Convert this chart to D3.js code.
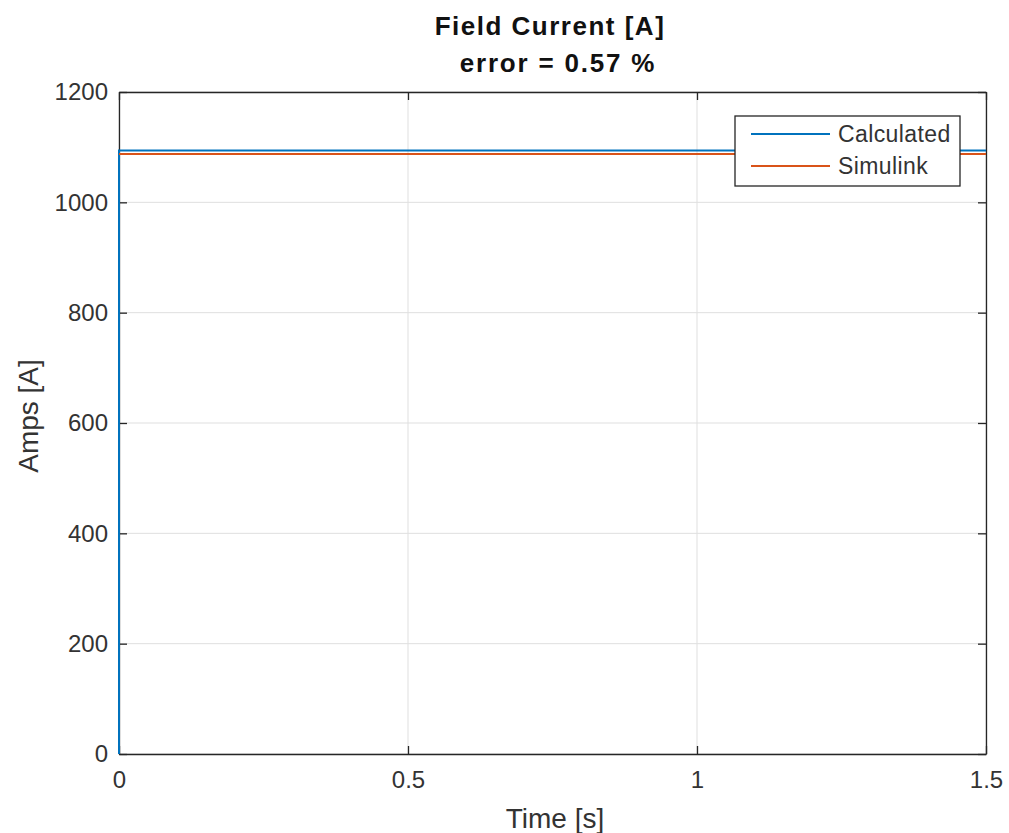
<!DOCTYPE html>
<html>
<head>
<meta charset="utf-8">
<script src="https://cdn.jsdelivr.net/npm/d3@7"></script>
<style>
	body { margin: 0; background: white; }
	text { font-family: "Liberation Sans", Arial, sans-serif; fill: #333333; }
</style>
</head>
<body>
<script>
// chart data
var calcTime = [0, 0, 1.5]
var calcAmps = [0, 1094, 1094]
var simTime = [0, 1.5]
var simAmps = [1087.8, 1087.8]
var xTicks = [0, 0.5, 1, 1.5]
var yTicks = [0, 200, 400, 600, 800, 1000, 1200]
var seriesNames = ["Calculated", "Simulink"]
var seriesColors = ["#0072BD", "#D95319"]

var width = 1009, height = 833
// plot box (don't call it "top", that's window.top)
var plotLeft = 119, plotRight = 986, plotTop = 92, plotBottom = 754

var svg = d3.select("body").append("svg")
	.attr("width", width).attr("height", height)

var x = d3.scaleLinear().domain([0, 1.5]).range([plotLeft, plotRight])
var y = d3.scaleLinear().domain([0, 1200]).range([plotBottom, plotTop])

// grid
var grid = svg.append("g")
grid.selectAll(".gx").data(xTicks).enter().append("line")
	.attr("x1", function(d) { return x(d) }).attr("x2", function(d) { return x(d) })
	.attr("y1", plotTop).attr("y2", plotBottom)
	.attr("stroke", "#dfdfdf").attr("stroke-width", 1)
grid.selectAll(".gy").data(yTicks).enter().append("line")
	.attr("x1", plotLeft).attr("x2", plotRight)
	.attr("y1", function(d) { return y(d) }).attr("y2", function(d) { return y(d) })
	.attr("stroke", "#dfdfdf").attr("stroke-width", 1)

// axes with inward ticks, box around
var axisColor = "#262626"
var xAxis = svg.append("g").attr("transform", "translate(0," + plotBottom + ")")
	.call(d3.axisBottom(x).tickValues(xTicks).tickSizeInner(-8).tickSizeOuter(0).tickPadding(17)
		.tickFormat(function(d) { return d3.format("")(d) }))
var xTop = svg.append("g").attr("transform", "translate(0," + plotTop + ")")
	.call(d3.axisTop(x).tickValues(xTicks).tickSizeInner(-8).tickSizeOuter(0).tickFormat(""))
var yAxis = svg.append("g").attr("transform", "translate(" + plotLeft + ",0)")
	.call(d3.axisLeft(y).tickValues(yTicks).tickSizeInner(-8).tickSizeOuter(0).tickPadding(11)
		.tickFormat(function(d) { return d3.format("")(d) }))
var yRight = svg.append("g").attr("transform", "translate(" + plotRight + ",0)")
	.call(d3.axisRight(y).tickValues(yTicks).tickSizeInner(-8).tickSizeOuter(0).tickFormat(""))

;[xAxis, xTop, yAxis, yRight].forEach(function(a) {
	a.selectAll("path").attr("stroke", axisColor).attr("stroke-width", 1.3)
	a.selectAll("line").attr("stroke", axisColor).attr("stroke-width", 1.3)
	a.selectAll("text").attr("font-size", 24).attr("font-family", null).attr("fill", "#3a3a3a")
})
xAxis.selectAll("text").attr("dy", "0.71em")

// data lines, on top of the axes
function addSeries(times, values, color) {
	var pts = times.map(function(t, i) { return [t, values[i]] })
	svg.append("path").datum(pts)
		.attr("fill", "none").attr("stroke", color).attr("stroke-width", 2)
		.attr("d", d3.line().x(function(d) { return x(d[0]) }).y(function(d) { return y(d[1]) }))
}
addSeries(calcTime, calcAmps, seriesColors[0])
addSeries(simTime, simAmps, seriesColors[1])

// axis labels
svg.append("text").text("Time [s]")
	.attr("x", 555).attr("y", 828)
	.attr("text-anchor", "middle").attr("font-size", 28)
svg.append("text").text("Amps [A]")
	.attr("transform", "translate(38," + 416 + ") rotate(-90)")
	.attr("text-anchor", "middle").attr("font-size", 28)

// title
svg.append("text").text("Field Current [A]")
	.attr("x", 550).attr("y", 35)
	.attr("text-anchor", "middle").attr("font-size", 26).attr("font-weight", "bold")
	.attr("letter-spacing", 1.5).style("fill", "#111")
svg.append("text").text("error = 0.57 %")
	.attr("x", 558).attr("y", 72)
	.attr("text-anchor", "middle").attr("font-size", 26).attr("font-weight", "bold")
	.attr("letter-spacing", 1.8).style("fill", "#111")

// legend
var legend = svg.append("g")
legend.append("rect")
	.attr("x", 735).attr("y", 116).attr("width", 225).attr("height", 70)
	.attr("fill", "white").attr("stroke", axisColor).attr("stroke-width", 1.3)
seriesNames.forEach(function(name, i) {
	var ly = 134 + i * 32
	legend.append("line").attr("x1", 751).attr("x2", 830).attr("y1", ly).attr("y2", ly)
		.attr("stroke", seriesColors[i]).attr("stroke-width", 2)
	legend.append("text").text(name).attr("x", 838).attr("y", ly).attr("dy", "0.35em")
		.attr("font-size", 23).attr("letter-spacing", 0.4)
})
</script>
</body>
</html>
